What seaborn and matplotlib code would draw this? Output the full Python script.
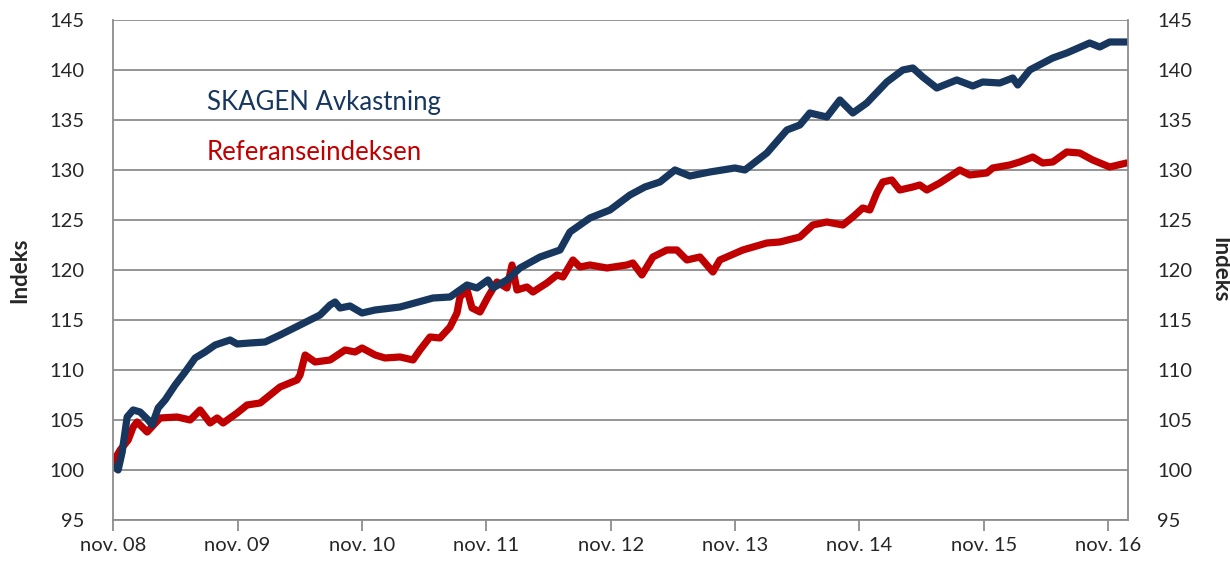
import pandas as pd
import numpy as np
import matplotlib.pyplot as plt
import seaborn as sns

# Months since nov. 2008 and index values
skagen_months = [0, 0.48, 0.87, 1.35, 1.93, 2.6, 3.38, 3.76, 4.34, 5.01, 5.98, 6.94, 7.91, 8.87,
                 9.84, 11.28, 11.96, 13.21, 14.66, 16.1, 18.03, 19.96, 20.93, 21.41, 21.89, 22.85,
                 24.01, 25.27, 27.68, 30.86, 32.5, 34.14, 35.1, 36.16, 36.64, 37.99, 39.25, 41.18,
                 43.11, 44.07, 46.0, 47.93, 49.86, 51.3, 52.75, 54.2, 55.64, 57.57, 59.98, 60.95,
                 63.07, 65.0, 66.25, 67.21, 68.85, 70.11, 71.36, 72.71, 74.64, 76.18, 77.15, 78.11,
                 79.46, 81.39, 82.93, 83.9, 85.54, 86.79, 87.27, 88.43, 90.65, 92.0, 94.21, 95.18,
                 96.14, 97.78]
skagen_values = [100.4, 100.0, 101.8, 105.3, 106.0, 105.8, 105.0, 104.5, 106.2, 107.0, 108.5, 109.8,
                 111.2, 111.8, 112.5, 113.0, 112.6, 112.7, 112.8, 113.5, 114.5, 115.5, 116.5, 116.8,
                 116.2, 116.4, 115.7, 116.0, 116.3, 117.2, 117.3, 118.5, 118.2, 119.0, 118.2, 119.0,
                 120.2, 121.3, 122.0, 123.8, 125.2, 126.0, 127.5, 128.3, 128.8, 130.0, 129.4, 129.8,
                 130.2, 130.0, 131.7, 134.0, 134.5, 135.7, 135.3, 137.0, 135.7, 136.7, 138.8, 140.0,
                 140.2, 139.3, 138.2, 139.0, 138.4, 138.8, 138.7, 139.2, 138.5, 140.0, 141.2, 141.7,
                 142.7, 142.3, 142.8, 142.8]

ref_months = [0, 0.68, 1.45, 1.93, 2.31, 3.28, 4.53, 6.17, 7.43, 8.39, 9.35, 10.03, 10.61, 11.96,
              12.92, 14.18, 16.1, 17.74, 18.03, 18.52, 19.48, 20.93, 22.37, 23.34, 24.01, 25.27,
              26.23, 27.68, 28.93, 29.6, 30.57, 31.53, 32.5, 33.17, 33.46, 34.14, 34.62, 35.39,
              36.16, 37.03, 37.99, 38.48, 38.96, 39.92, 40.5, 41.85, 42.82, 43.39, 44.36, 45.03,
              46.0, 47.64, 49.57, 50.14, 51.01, 52.07, 53.42, 54.39, 55.35, 56.61, 57.86, 58.53,
              60.75, 63.07, 64.32, 66.25, 67.5, 68.85, 70.4, 71.36, 72.32, 73.0, 73.67, 74.25,
              75.12, 75.89, 77.15, 77.82, 78.5, 79.75, 81.68, 82.64, 84.28, 84.86, 86.5, 87.46,
              88.72, 89.68, 90.65, 92.0, 93.25, 94.5, 96.14, 97.78]
ref_values = [100.8, 102.0, 103.0, 104.3, 104.8, 103.8, 105.2, 105.3, 105.0, 106.0, 104.7, 105.2,
              104.7, 105.7, 106.5, 106.7, 108.3, 109.0, 109.5, 111.5, 110.8, 111.0, 112.0, 111.8,
              112.2, 111.5, 111.2, 111.3, 111.0, 112.0, 113.3, 113.2, 114.3, 115.7, 117.3, 118.0,
              116.2, 115.8, 117.3, 118.8, 118.2, 120.5, 118.0, 118.3, 117.8, 118.7, 119.5, 119.3,
              121.0, 120.3, 120.5, 120.2, 120.5, 120.7, 119.5, 121.3, 122.0, 122.0, 121.0, 121.3,
              119.8, 121.0, 122.0, 122.7, 122.8, 123.3, 124.5, 124.8, 124.5, 125.3, 126.2, 126.0,
              127.7, 128.8, 129.0, 128.0, 128.3, 128.5, 128.0, 128.7, 130.0, 129.5, 129.7, 130.2,
              130.5, 130.8, 131.3, 130.7, 130.8, 131.8, 131.7, 131.0, 130.3, 130.7]

tick_labels = ['nov. 08', 'nov. 09', 'nov. 10', 'nov. 11', 'nov. 12',
               'nov. 13', 'nov. 14', 'nov. 15', 'nov. 16']

skagen_df = pd.DataFrame({'month': skagen_months, 'value': skagen_values})
ref_df = pd.DataFrame({'month': ref_months, 'value': ref_values})

sns.set_style('white')
plt.rcParams['font.family'] = ['Lato', 'DejaVu Sans']

blue = '#17375E'
red = '#C00000'
grey = '#8C8C8C'

fig, ax = plt.subplots(figsize=(12.3, 5.63), dpi=100)
fig.subplots_adjust(left=0.092, right=0.917, top=0.9645, bottom=0.0764)

sns.lineplot(data=ref_df, x='month', y='value', color=red, lw=5.2, ax=ax,
             solid_joinstyle='round', solid_capstyle='round')
sns.lineplot(data=skagen_df, x='month', y='value', color=blue, lw=5.2, ax=ax,
             solid_joinstyle='round', solid_capstyle='round')

ax.set_xlim(0, 97.9)
ax.set_ylim(95, 145)
ax.set_yticks(np.arange(95, 146, 5))
ax.set_xticks(np.arange(0, 97, 12))
ax.set_xticklabels(tick_labels)
ax.yaxis.grid(True, color=grey, lw=1.3)
ax.set_axisbelow(True)

for side in ['left', 'right', 'bottom']:
    ax.spines[side].set_color(grey)
    ax.spines[side].set_linewidth(1.3)
ax.spines['top'].set_visible(False)

ax.tick_params(axis='x', direction='out', length=8, width=1.3, color=grey,
               labelsize=14.5, pad=4, bottom=True)
ax.tick_params(axis='y', left=True, length=0, labelsize=14.5, pad=21)
ax.set_xlabel('')
ax.set_ylabel('')

ax2 = ax.twinx()
ax2.set_ylim(95, 145)
ax2.set_yticks(np.arange(95, 146, 5))
ax2.tick_params(axis='y', right=True, length=0, labelsize=14.5, pad=21)
for side in ['left', 'right', 'bottom', 'top']:
    ax2.spines[side].set_visible(False)

label_y = 1 - 270 / 563
fig.text(20 / 1230, label_y, 'Indeks', rotation=90, fontsize=16, fontweight='bold',
         ha='center', va='center')
fig.text(1220 / 1230, label_y, 'Indeks', rotation=270, fontsize=16, fontweight='bold',
         ha='center', va='center')

ax.text(0.092, 0.835, 'SKAGEN Avkastning', transform=ax.transAxes, color=blue,
        fontsize=18.5, va='center', ha='left')
ax.text(0.092, 0.735, 'Referanseindeksen', transform=ax.transAxes, color=red,
        fontsize=18.5, va='center', ha='left')

fig.savefig('out.png', dpi=100)
